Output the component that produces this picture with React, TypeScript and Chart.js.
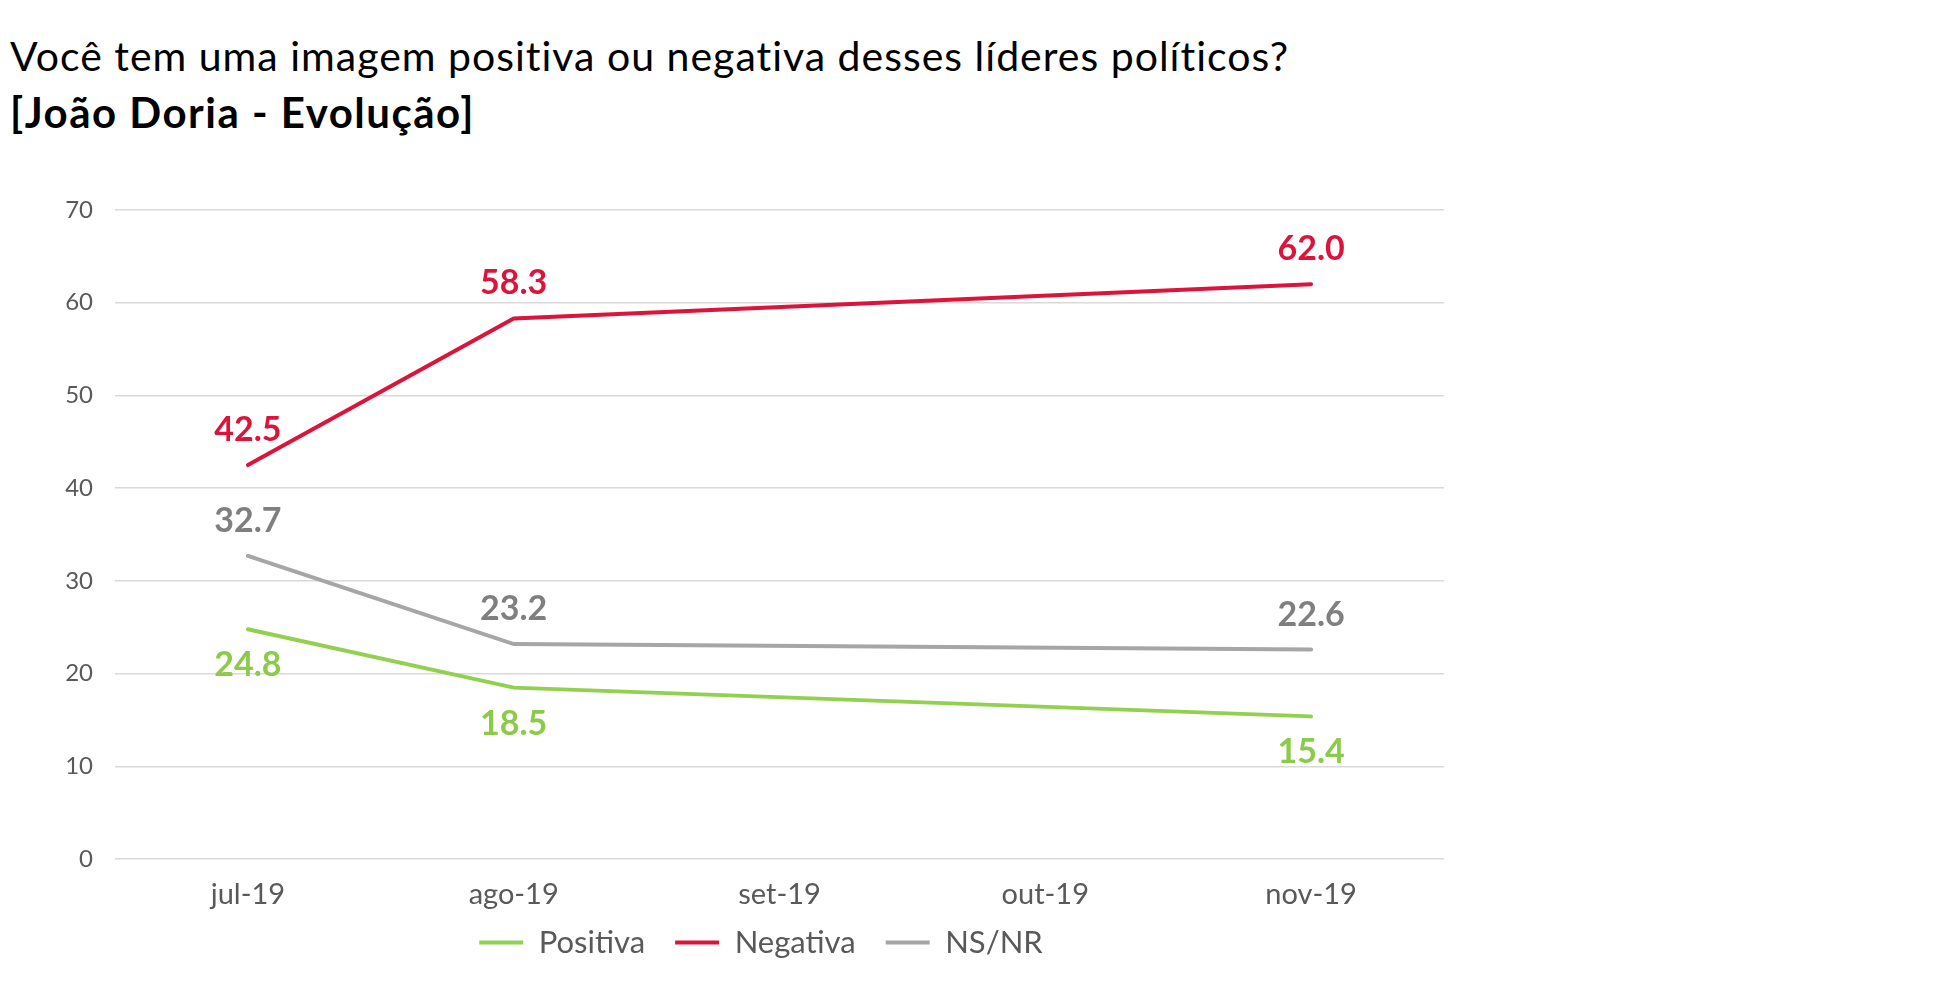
import React, { useEffect, useRef } from "react";
import { Chart, registerables } from "chart.js";

Chart.register(...registerables);

const categories = ["jul-19", "ago-19", "set-19", "out-19", "nov-19"];
const positiva = [24.8, 18.5, null, null, 15.4];
const negativa = [42.5, 58.3, null, null, 62.0];
const nsnr = [32.7, 23.2, null, null, 22.6];
const yTicks = [0, 10, 20, 30, 40, 50, 60, 70];

const FONT = "Lato, 'Noto Sans', sans-serif";
const GREEN = "#92D050";
const RED = "#DC143C";
const GRAY = "#A6A6A6";

const labelPlugin = {
  id: "valueLabels",
  afterDatasetsDraw(chart: any) {
    const ctx = chart.ctx;
    ctx.save();
    ctx.font = `bold 34px ${FONT}`;
    ctx.textAlign = "center";
    ctx.textBaseline = "middle";
    chart.data.datasets.forEach((ds: any, i: number) => {
      const meta = chart.getDatasetMeta(i);
      meta.data.forEach((pt: any, j: number) => {
        const v = ds.data[j];
        if (v === null || v === undefined) return;
        ctx.fillStyle = ds.labelColor;
        ctx.fillText(v.toFixed(1), pt.x, pt.y + ds.labelOffset);
      });
    });
    ctx.restore();
  },
};

const legendShift = {
  id: "legendShift",
  afterLayout(chart: any) {
    const lg = chart.legend;
    if (!lg) return;
    lg.left += 39;
    lg.right += 39;
    lg.top -= 33;
    lg.bottom -= 33;
  },
};

export default function App() {
  const ref = useRef<HTMLCanvasElement>(null);
  useEffect(() => {
    const chart = new Chart(ref.current!, {
      type: "line",
      data: {
        labels: categories,
        datasets: [
          { label: "Positiva", data: positiva, borderColor: GREEN, backgroundColor: GREEN, labelColor: "#8BCB48", labelOffset: 36 } as any,
          { label: "Negativa", data: negativa, borderColor: RED, backgroundColor: RED, labelColor: RED, labelOffset: -35 } as any,
          { label: "NS/NR", data: nsnr, borderColor: GRAY, backgroundColor: GRAY, labelColor: "#7F7F7F", labelOffset: -35 } as any,
        ],
      },
      options: {
        animation: false,
        responsive: false,
        spanGaps: true,
        elements: {
          line: { borderWidth: 4, tension: 0, borderCapStyle: "round" },
          point: { radius: 0, hoverRadius: 0 },
        },
        layout: { padding: { top: 210, right: 76, left: 0, bottom: -13 } },
        plugins: {
          tooltip: { enabled: false },
          legend: {
            position: "bottom",
            labels: {
              color: "#595959",
              font: { family: FONT, size: 31 },
              boxWidth: 44,
              boxHeight: 4,
              padding: 30,
              generateLabels: (c: any) =>
                c.data.datasets.map((d: any, i: number) => ({
                  text: d.label,
                  fillStyle: d.borderColor,
                  strokeStyle: d.borderColor,
                  lineWidth: 0,
                  fontColor: "#595959",
                  datasetIndex: i,
                })),
            },
          },
        },
        scales: {
          x: {
            offset: true,
            grid: { display: false, drawTicks: false },
            border: { display: false },
            ticks: { color: "#595959", font: { family: FONT, size: 29 }, padding: 18 },
          },
          y: {
            min: 0,
            max: 70,
            afterFit: (s: any) => { s.width = 115; },
            afterBuildTicks: (s: any) => { s.ticks = yTicks.map((v) => ({ value: v })); },
            grid: { color: "#D9D9D9", lineWidth: 1.5, drawTicks: false },
            border: { display: false },
            ticks: { color: "#595959", font: { family: FONT, size: 24 }, padding: 22 },
          },
        },
      } as any,
      plugins: [labelPlugin, legendShift],
    });
    return () => chart.destroy();
  }, []);

  return (
    <div style={{ position: "absolute", left: 0, top: 0, width: 1960, height: 988, background: "#fff" }}>
      <div style={{ position: "absolute", left: 10, top: 34, fontFamily: FONT, fontSize: 41, letterSpacing: "1px", lineHeight: "44px", color: "#000", whiteSpace: "nowrap" }}>
        Você tem uma imagem positiva ou negativa desses líderes políticos?
      </div>
      <div style={{ position: "absolute", left: 10, top: 90, fontFamily: FONT, fontSize: 42, fontWeight: "bold", letterSpacing: "1.5px", lineHeight: "44px", color: "#000", whiteSpace: "nowrap" }}>
        [João Doria - Evolução]
      </div>
      <canvas ref={ref} width={1520} height={988} style={{ position: "absolute", left: 0, top: 0 }} />
    </div>
  );
}
